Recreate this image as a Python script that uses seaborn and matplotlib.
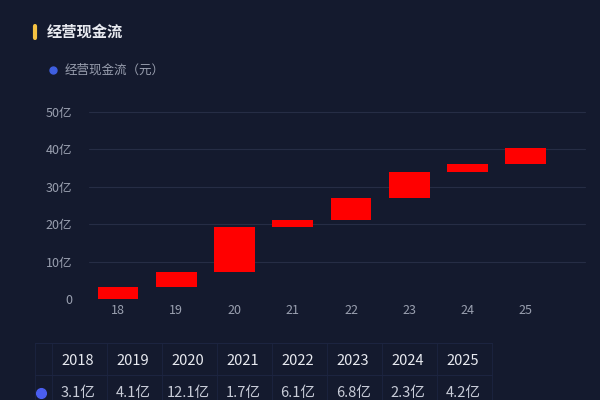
import seaborn as sns
import matplotlib.pyplot as plt
from matplotlib.lines import Line2D
import numpy as np
import pandas as pd

years = ["2018", "2019", "2020", "2021", "2022", "2023", "2024", "2025"]
short_labels = ["18", "19", "20", "21", "22", "23", "24", "25"]
cash_flow = [3.1, 4.1, 12.1, 1.7, 6.1, 6.8, 2.3, 4.2]
value_labels = ["3.1亿", "4.1亿", "12.1亿", "1.7亿", "6.1亿", "6.8亿", "2.3亿", "4.2亿"]
y_ticks = [0, 10, 20, 30, 40, 50]

BG = "#141a2e"
sns.set_style("dark")
plt.rcParams["font.family"] = ["Noto Sans CJK SC", "DejaVu Sans"]

ends = np.cumsum(cash_flow)
starts = ends - np.array(cash_flow)
df = pd.DataFrame({"year": short_labels, "value": cash_flow, "start": starts})

fig = plt.figure(figsize=(6, 4), dpi=100, facecolor=BG)
ax = fig.add_axes([0.148, 0.2525, 0.777, 0.4675])
ax.set_facecolor(BG)

sns.barplot(data=df, x="year", y="value", bottom=df["start"], color="#ff0000",
            saturation=1, width=0.7, linewidth=0, ax=ax)

ax.set_ylim(0, 50)
ax.set_yticks(y_ticks)
ax.set_yticklabels(["0"] + [f"{t}亿" for t in y_ticks[1:]])
ax.set_xlabel("")
ax.set_ylabel("")
ax.tick_params(colors="#9aa0b0", labelsize=9, length=0)
ax.tick_params(axis="y", pad=12)
for t in y_ticks[1:]:
    ax.axhline(t, xmax=1.065, color="#262d45", linewidth=0.8, zorder=0, clip_on=False)
for s in ax.spines.values():
    s.set_visible(False)
ax.grid(False)

# header
fig.add_artist(Line2D([0.059, 0.059], [0.905, 0.935], color="#f5c242", linewidth=3))
fig.text(0.078, 0.92, "经营现金流", color="#e8eaf0", fontsize=11, fontweight="bold", va="center")
fig.add_artist(Line2D([0.088], [0.825], marker="o", color="#3f5fe0", markersize=5, linestyle="none"))
fig.text(0.107, 0.825, "经营现金流（元）", color="#9aa0b0", fontsize=9, va="center")

# table below chart
line_c = "#1c2440"
fig.add_artist(Line2D([0.058, 0.82], [0.1425, 0.1425], color=line_c, linewidth=0.8))
fig.add_artist(Line2D([0.058, 0.82], [0.0625, 0.0625], color=line_c, linewidth=0.8))
for i in range(10):
    x = 0.058 if i == 0 else 0.087 + (i - 1) * 0.0917
    fig.add_artist(Line2D([x, x], [0.0, 0.1425], color=line_c, linewidth=0.6))
for i, (yr, lab) in enumerate(zip(years, value_labels)):
    x = 0.13 + i * 0.0917
    fig.text(x, 0.097, yr, color="#e8eaf0", fontsize=10.5, ha="center", va="center")
    fig.text(x, 0.018, lab, color="#c8ccd8", fontsize=10.5, ha="center", va="center")
fig.add_artist(Line2D([0.068], [0.018], marker="o", color="#4a5ef0", markersize=7, linestyle="none"))

fig.savefig("out.png", dpi=100, facecolor=BG)
